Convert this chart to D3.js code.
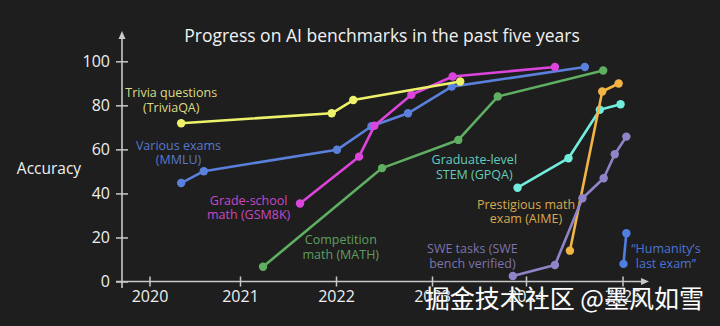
<!DOCTYPE html>
<html>
<head>
<meta charset="utf-8">
<script src="https://cdn.jsdelivr.net/npm/d3@7"></script>
<style>
  html, body { margin: 0; padding: 0; background: #1e1e1e; }
  svg { display: block; }
</style>
</head>
<body>
<svg id="chart" width="720" height="326"></svg>
<script>
// ---- data (decimal years, accuracy %) ----
const yearTicks = [2020, 2021, 2022, 2023, 2024, 2025];
const accuracyTicks = [0, 20, 40, 60, 80, 100];

const triviaYears = [2020.35, 2021.955, 2022.18, 2023.30];
const triviaValues = [71.9, 76.4, 82.4, 90.8];

const mmluYears = [2020.35, 2020.60, 2022.01, 2022.37, 2022.75, 2023.21, 2024.61];
const mmluValues = [44.7, 50.1, 59.8, 70.5, 76.4, 88.5, 97.4];

const gsm8kYears = [2021.625, 2022.24, 2022.40, 2022.785, 2023.22, 2024.30];
const gsm8kValues = [35.4, 56.7, 70.7, 84.8, 93.1, 97.4];

const mathYears = [2021.24, 2022.48, 2023.28, 2023.70, 2024.80];
const mathValues = [6.7, 51.5, 64.3, 84.0, 95.8];

const gpqaYears = [2023.91, 2024.44, 2024.765, 2024.98];
const gpqaValues = [42.6, 56.0, 78.0, 80.5];

const aimeYears = [2024.455, 2024.79, 2024.96];
const aimeValues = [14.0, 86.3, 89.9];

const sweYears = [2023.86, 2024.30, 2024.585, 2024.805, 2024.92, 2025.04];
const sweValues = [2.5, 7.5, 37.8, 46.9, 57.8, 65.8];

const hleYears = [2025.01, 2025.04];
const hleValues = [8.0, 21.9];

const seriesNames = ["MATH", "MMLU", "GSM8K", "TriviaQA", "GPQA", "AIME", "SWE", "HLE"];
const seriesColors = ["#5fae62", "#5b80dc", "#dc45dc", "#eef26a", "#72ecdc", "#f2b545", "#8f84c8", "#4f7fe0"];
const labelColors  = ["#5e9e62", "#5878cc", "#c648c8", "#dcdc86", "#62ccbc", "#d8aa50", "#7c74ac", "#4d74d4"];
const seriesLabels = [
  ["Competition", "math (MATH)"],
  ["Various exams", "(MMLU)"],
  ["Grade-school", "math (GSM8K)"],
  ["Trivia questions", "(TriviaQA)"],
  ["Graduate-level", "STEM (GPQA)"],
  ["Prestigious math", "exam (AIME)"],
  ["SWE tasks (SWE", "bench verified)"],
  ["\u201cHumanity\u2019s", "last exam\u201d"]
];
// label anchor in data coords (year, accuracy) for first line baseline
const labelYears  = [2022.05, 2020.32, 2021.09, 2020.24, 2023.45, 2024.0, 2023.43, 2025.45];
const labelValues = [17.0,    59.9,    34.9,    83.8,    53.4,    33.1,   12.9,    12.9];

const seriesYears = [mathYears, mmluYears, gsm8kYears, triviaYears, gpqaYears, aimeYears, sweYears, hleYears];
const seriesValues = [mathValues, mmluValues, gsm8kValues, triviaValues, gpqaValues, aimeValues, sweValues, hleValues];

// ---- chart ----
const svg = d3.select("#chart");
const W = 720, H = 326;
svg.append("rect").attr("width", W).attr("height", H).attr("fill", "#1e1e1e");

const x = d3.scaleLinear()
  .domain(yearTicks)
  .range([149.5, 240, 336, 432, 526, 622.5]);
const y = d3.scaleLinear().domain([0, 100]).range([281.5, 61.3]);

const axisColor = "#c8c8c8";
const font = "'Open Sans', Roboto, 'Noto Sans', sans-serif";

// title
svg.append("text")
  .attr("x", 382).attr("y", 42)
  .attr("text-anchor", "middle")
  .attr("fill", "#f2f2f2")
  .attr("font-family", font)
  .attr("font-size", 17.5)
  .text("Progress on AI benchmarks in the past five years");

// y-axis label
svg.append("text")
  .attr("x", 49).attr("y", 174)
  .attr("text-anchor", "middle")
  .attr("fill", "#f0f0f0")
  .attr("font-family", font)
  .attr("font-size", 15.5)
  .text("Accuracy");

// axes
const yAxis = d3.axisLeft(y).tickValues(accuracyTicks).tickSize(0).tickPadding(12);
const yg = svg.append("g").attr("transform", "translate(122,0)").call(yAxis);
yg.select(".domain").remove();
yg.selectAll("text").attr("fill", "#eeeeee").attr("font-family", font).attr("font-size", 16);
yg.selectAll(".tick").append("line").attr("x1", -6).attr("x2", 6).attr("stroke", axisColor).attr("stroke-width", 1.5);

const xAxis = d3.axisBottom(x).tickValues(yearTicks).tickFormat(d3.format("d")).tickSize(0).tickPadding(9);
const xg = svg.append("g").attr("transform", `translate(0,${y(0)})`).call(xAxis);
xg.select(".domain").remove();
xg.selectAll("text").attr("fill", "#eeeeee").attr("font-family", font).attr("font-size", 16);
xg.selectAll(".tick").append("line").attr("y1", -5).attr("y2", 5).attr("stroke", axisColor).attr("stroke-width", 1.5);

// axis lines with arrows
svg.append("line").attr("x1", 122).attr("x2", 122).attr("y1", 288).attr("y2", 38)
  .attr("stroke", axisColor).attr("stroke-width", 1.6);
svg.append("path").attr("d", "M118.5,39 L122,31 L125.5,39 Z").attr("fill", axisColor);
svg.append("line").attr("x1", 116).attr("x2", 642).attr("y1", y(0)).attr("y2", y(0))
  .attr("stroke", axisColor).attr("stroke-width", 1.6);
svg.append("path").attr("d", `M641,${y(0)-3.5} L649,${y(0)} L641,${y(0)+3.5} Z`).attr("fill", axisColor);

// series
const line = d3.line().x(d => x(d[0])).y(d => y(d[1]));
seriesNames.forEach((name, i) => {
  const pts = seriesYears[i].map((yr, j) => [yr, seriesValues[i][j]]);
  const g = svg.append("g").attr("class", "series-" + name);
  g.append("path").datum(pts).attr("d", line)
    .attr("fill", "none").attr("stroke", seriesColors[i]).attr("stroke-width", 2.6)
    .attr("stroke-linejoin", "round");
  g.selectAll("circle").data(pts).join("circle")
    .attr("cx", d => x(d[0])).attr("cy", d => y(d[1])).attr("r", 4.2)
    .attr("fill", seriesColors[i]);
});

// series labels
seriesNames.forEach((name, i) => {
  const t = svg.append("text")
    .attr("x", x(labelYears[i])).attr("y", y(labelValues[i]))
    .attr("text-anchor", "middle")
    .attr("fill", labelColors[i])
    .attr("font-family", font)
    .attr("font-size", 12.5);
  seriesLabels[i].forEach((s, k) => {
    t.append("tspan").attr("x", x(labelYears[i])).attr("dy", k === 0 ? 0 : 14.8).text(s);
  });
});

// watermark
svg.append("text")
  .attr("x", 704).attr("y", 307.5)
  .attr("text-anchor", "end")
  .attr("fill", "#ffffff")
  .attr("stroke", "#333")
  .attr("stroke-width", 0.6)
  .attr("paint-order", "stroke")
  .attr("font-family", "'Noto Sans CJK SC', sans-serif")
  .attr("font-size", 25)
  .text("掘金技术社区 @墨风如雪");
</script>
</body>
</html>
